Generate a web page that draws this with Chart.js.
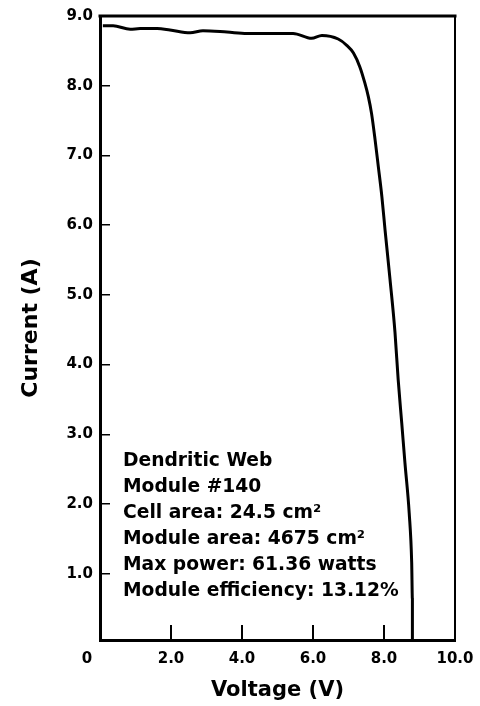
<!DOCTYPE html>
<html>
<head>
<meta charset="utf-8">
<script src="https://cdn.jsdelivr.net/npm/chart.js@4.4.0/dist/chart.umd.min.js"></script>
<style>
  html, body { margin: 0; padding: 0; background: #ffffff; }
  #wrap { width: 480px; height: 706px; }
</style>
</head>
<body>
<div id="wrap"><canvas id="c" width="480" height="706"></canvas></div>
<script>
// ---- data ----
const voltage = [0.08, 0.37, 0.85, 1.13, 1.61, 1.97, 2.54, 2.90, 3.58, 4.14, 5.07, 5.44, 5.96, 6.25, 6.71, 6.95, 7.14, 7.32, 7.46, 7.56, 7.65, 7.75, 7.84, 7.94, 8.03, 8.17, 8.31, 8.40, 8.50, 8.59, 8.71, 8.78, 8.80, 8.80];
const current = [8.86, 8.86, 8.81, 8.82, 8.82, 8.80, 8.76, 8.79, 8.77, 8.75, 8.75, 8.75, 8.68, 8.72, 8.67, 8.58, 8.47, 8.27, 8.04, 7.84, 7.60, 7.22, 6.84, 6.41, 5.93, 5.22, 4.46, 3.78, 3.16, 2.59, 1.87, 1.16, 0.63, 0.05];
const xTickValues = [0, 2, 4, 6, 8, 10];
const yTickValues = [1, 2, 3, 4, 5, 6, 7, 8, 9];
const annotationLines = [
  "Dendritic Web",
  "Module #140",
  "Cell area: 24.5 cm\u00B2",
  "Module area: 4675 cm\u00B2",
  "Max power: 61.36 watts",
  "Module efficiency: 13.12%"
];
const xTitle = "Voltage (V)";
const yTitle = "Current (A)";

const FONT = "'DejaVu Sans', 'Liberation Sans', Arial, sans-serif";

const points = voltage.map((v, i) => ({ x: v, y: current[i] }));

function zeroPad(scale) {
  scale.paddingTop = 0; scale.paddingBottom = 0;
  scale.paddingLeft = 0; scale.paddingRight = 0;
}

const frameAndText = {
  id: 'frameAndText',
  afterDraw(chart) {
    const { ctx, chartArea: a } = chart;
    ctx.save();
    ctx.strokeStyle = '#000';
    // top border
    ctx.lineWidth = 3;
    ctx.beginPath();
    ctx.moveTo(a.left - 1.5, a.top);
    ctx.lineTo(a.right + 1.5, a.top);
    ctx.stroke();
    // right border
    ctx.lineWidth = 2;
    ctx.beginPath();
    ctx.moveTo(a.right, a.top);
    ctx.lineTo(a.right, a.bottom);
    ctx.stroke();
    // annotation block
    ctx.fillStyle = '#000';
    ctx.font = "bold 18.7px " + FONT;
    ctx.textAlign = 'left';
    ctx.textBaseline = 'alphabetic';
    annotationLines.forEach((t, i) => {
      ctx.fillText(t, 123, 466 + i * 26);
    });
    ctx.restore();
  }
};

new Chart(document.getElementById('c'), {
  type: 'scatter',
  data: {
    datasets: [{
      data: points,
      showLine: true,
      borderColor: '#000',
      borderWidth: 3,
      pointRadius: 0,
      cubicInterpolationMode: 'monotone',
      fill: false
    }]
  },
  options: {
    responsive: false,
    devicePixelRatio: 1,
    animation: false,
    layout: { padding: { left: 0, top: 16, right: 25, bottom: 0 } },
    plugins: { legend: { display: false }, tooltip: { enabled: false } },
    scales: {
      x: {
        type: 'linear',
        min: 0,
        max: 10,
        afterFit(scale) { scale.height = 66; zeroPad(scale); },
        afterBuildTicks(scale) { scale.ticks = xTickValues.map(v => ({ value: v })); },
        ticks: {
          color: '#000',
          font: { family: FONT, size: 15, weight: 'bold' },
          padding: 25,
          maxRotation: 0,
          autoSkip: false,
          callback: (v) => v === 0 ? '0     ' : v.toFixed(1)
        },
        grid: {
          drawOnChartArea: false,
          drawTicks: true,
          tickLength: -15,
          color: '#000',
          lineWidth: 2
        },
        border: { display: true, color: '#000', width: 3 },
        title: {
          display: true,
          text: xTitle,
          color: '#000',
          font: { family: FONT, size: 21, weight: 'bold' },
          padding: { top: 0, bottom: 3 }
        }
      },
      y: {
        type: 'linear',
        min: 0.05,
        max: 9,
        afterFit(scale) { scale.width = 100; zeroPad(scale); },
        afterBuildTicks(scale) { scale.ticks = yTickValues.map(v => ({ value: v })); },
        ticks: {
          color: '#000',
          font: { family: FONT, size: 15, weight: 'bold' },
          padding: 17,
          autoSkip: false,
          callback: (v) => Number(v).toFixed(1)
        },
        grid: {
          drawOnChartArea: false,
          drawTicks: true,
          tickLength: -10,
          color: '#000',
          lineWidth: 1.5
        },
        border: { display: true, color: '#000', width: 3 },
        title: {
          display: true,
          text: yTitle,
          color: '#000',
          font: { family: FONT, size: 22, weight: 'bold' },
          padding: { top: 18, bottom: 0 }
        }
      }
    }
  },
  plugins: [frameAndText]
});
</script>
</body>
</html>
